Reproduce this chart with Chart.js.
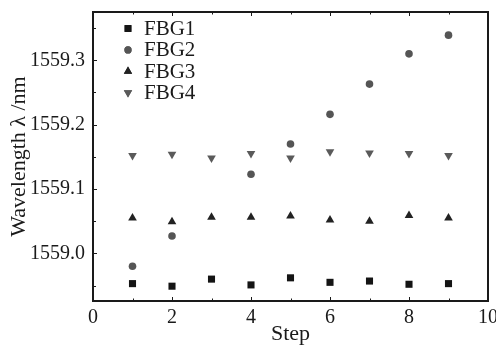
<!DOCTYPE html>
<html>
<head>
<meta charset="utf-8">
<script src="https://cdn.jsdelivr.net/npm/chart.js@4/dist/chart.umd.min.js"></script>
<style>
  html, body { margin: 0; padding: 0; background: #ffffff; }
  #wrap { width: 496px; height: 347px; }
</style>
</head>
<body>
<div id="wrap"><canvas id="c" width="496" height="347"></canvas></div>
<script>
// ---- data ----
const steps = [1, 2, 3, 4, 5, 6, 7, 8, 9];
const seriesNames = ['FBG1', 'FBG2', 'FBG3', 'FBG4'];
const fbg1 = [1558.953, 1558.949, 1558.960, 1558.951, 1558.962, 1558.955, 1558.957, 1558.952, 1558.953];
const fbg2 = [1558.980, 1559.027, null, 1559.123, 1559.170, 1559.216, 1559.263, 1559.310, 1559.339];
const fbg3 = [1559.055, 1559.049, 1559.056, 1559.056, 1559.058, 1559.052, 1559.050, 1559.059, 1559.055];
const fbg4 = [1559.152, 1559.154, 1559.148, 1559.155, 1559.148, 1559.158, 1559.156, 1559.155, 1559.152];

// ticks
const xTicks = [0, 1, 2, 3, 4, 5, 6, 7, 8, 9, 10];
const xTickLabels = ['0', '', '2', '', '4', '', '6', '', '8', '', '10'];
const yTicks = [1558.95, 1559.0, 1559.05, 1559.1, 1559.15, 1559.2, 1559.25, 1559.3, 1559.35];
const yTickLabels = ['', '1559.0', '', '1559.1', '', '1559.2', '', '1559.3', ''];
const xRange = [0, 10];
const yRange = [1558.926, 1559.375];

const FONT = "'Liberation Serif', 'DejaVu Serif', serif";
const INK = '#1a1a1a';

function pts(ys) {
  return steps.map((s, i) => ({ x: s, y: ys[i] })).filter(p => p.y !== null);
}

const datasets = [
  { label: seriesNames[0], data: pts(fbg1), pointStyle: 'rect', pointRadius: 5, backgroundColor: '#141414', borderColor: '#141414', borderWidth: 0, rotation: 0 },
  { label: seriesNames[1], data: pts(fbg2), pointStyle: 'circle', pointRadius: 3.8, backgroundColor: '#555555', borderColor: '#555555', borderWidth: 0, rotation: 0 },
  { label: seriesNames[2], data: pts(fbg3), pointStyle: 'triangle', pointRadius: 5, backgroundColor: '#222222', borderColor: '#222222', borderWidth: 0, rotation: 0 },
  { label: seriesNames[3], data: pts(fbg4), pointStyle: 'triangle', pointRadius: 5, backgroundColor: '#5a5a5a', borderColor: '#5a5a5a', borderWidth: 0, rotation: 180 }
];
datasets.forEach(d => { d.pointHoverRadius = d.pointRadius; d.showLine = false; });

// frame + inward ticks + legend inside the plot
const framePlugin = {
  id: 'frame',
  afterDatasetsDraw(chart) {
    const ctx = chart.ctx;
    const a = chart.chartArea;
    const xs = chart.scales.x, ys = chart.scales.y;
    ctx.save();
    ctx.strokeStyle = INK;
    ctx.lineWidth = 1;
    xTicks.forEach((v, i) => {
      const px = Math.round(xs.getPixelForValue(v)) + 0.5;
      const len = xTickLabels[i] ? 4 : 2.5;
      ctx.beginPath();
      ctx.moveTo(px, a.bottom); ctx.lineTo(px, a.bottom - len);
      ctx.moveTo(px, a.top); ctx.lineTo(px, a.top + len);
      ctx.stroke();
    });
    yTicks.forEach((v, i) => {
      const py = Math.round(ys.getPixelForValue(v)) + 0.5;
      const len = yTickLabels[i] ? 4 : 3;
      ctx.beginPath();
      ctx.moveTo(a.left, py); ctx.lineTo(a.left + len, py);
      ctx.stroke();
    });
    ctx.lineWidth = 2;
    ctx.strokeRect(a.left, a.top, a.right - a.left, a.bottom - a.top);

    // legend
    ctx.font = "21px " + FONT;
    ctx.textBaseline = 'middle';
    ctx.textAlign = 'left';
    chart.data.datasets.forEach((d, i) => {
      const cy = a.top + 16.5 + i * 21.4;
      const cx = a.left + 35;
      ctx.fillStyle = d.backgroundColor;
      Chart.helpers.drawPoint(ctx, { pointStyle: d.pointStyle, radius: d.pointStyle === 'circle' ? 3.6 : 4.8, rotation: d.rotation, borderWidth: 0 }, cx, cy);
      ctx.fill();
      ctx.fillStyle = INK;
      ctx.fillText(d.label, cx + 16, cy + 1);
    });
    ctx.restore();
  }
};

new Chart(document.getElementById('c'), {
  type: 'scatter',
  data: { datasets },
  options: {
    responsive: false,
    animation: false,
    devicePixelRatio: 1,
    layout: { padding: { left: 0, right: 8, top: 12, bottom: 0 } },
    plugins: { legend: { display: false }, tooltip: { enabled: false } },
    scales: {
      x: {
        type: 'linear', min: xRange[0], max: xRange[1],
        afterBuildTicks: s => { s.ticks = xTicks.map(v => ({ value: v })); },
        afterFit: s => { s.height = 46; s.paddingLeft = 0; s.paddingRight = 0; },
        ticks: {
          autoSkip: false, maxRotation: 0, padding: 5,
          color: INK, font: { family: FONT, size: 20 },
          callback: (v) => xTickLabels[xTicks.indexOf(v)] || ''
        },
        grid: { display: false, drawTicks: false },
        border: { display: false },
        title: { display: true, text: 'Step', color: INK, font: { family: FONT, size: 22 }, padding: { top: 0, bottom: 0 } }
      },
      y: {
        type: 'linear', min: yRange[0], max: yRange[1],
        afterBuildTicks: s => { s.ticks = yTicks.map(v => ({ value: v })); },
        afterFit: s => { s.width = 93; s.paddingTop = 0; s.paddingBottom = 0; },
        ticks: {
          autoSkip: false, padding: 8,
          color: INK, font: { family: FONT, size: 20 },
          callback: (v) => { const k = yTicks.findIndex(t => Math.abs(t - v) < 1e-6); return k >= 0 ? yTickLabels[k] : ''; }
        },
        grid: { display: false, drawTicks: false },
        border: { display: false },
        title: { display: true, text: 'Wavelength λ /nm', color: INK, font: { family: FONT, size: 22 }, padding: { top: 6, bottom: 0 } }
      }
    }
  },
  plugins: [framePlugin]
});
</script>
</body>
</html>
